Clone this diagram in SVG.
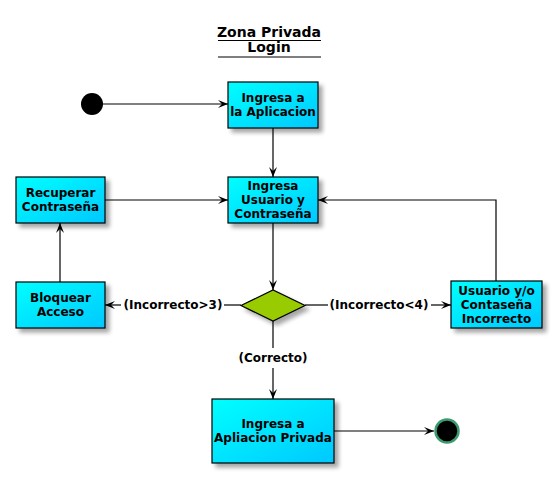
<svg xmlns="http://www.w3.org/2000/svg" width="557" height="479" viewBox="0 0 557 479">
<defs>
<linearGradient id="g" x1="0" y1="0" x2="1" y2="1">
<stop offset="0" stop-color="#00FFFF"/>
<stop offset="1" stop-color="#00C8FF"/>
</linearGradient>
<filter id="sh" x="-20%" y="-20%" width="150%" height="150%">
<feGaussianBlur in="SourceAlpha" stdDeviation="2"/>
<feOffset dx="4" dy="4" result="b"/>
<feComponentTransfer><feFuncA type="linear" slope="0.35"/></feComponentTransfer>
<feMerge><feMergeNode/><feMergeNode in="SourceGraphic"/></feMerge>
</filter>
<marker id="ah" viewBox="0 0 10 10" refX="10" refY="5" markerWidth="10" markerHeight="10" markerUnits="userSpaceOnUse" orient="auto">
<path d="M0,1 L10,5 L0,9 L4,5 Z" fill="#000"/>
</marker>
</defs>
<style>
text{font-family:"DejaVu Sans",sans-serif;font-weight:bold;font-size:12px;text-anchor:middle;fill:#000}
.box{fill:url(#g);stroke:#000;stroke-width:1.2;filter:url(#sh)}
.ln{fill:none;stroke:#000;stroke-width:1.2}
.ar{marker-end:url(#ah)}
.t{font-size:14px}
</style>
<rect width="557" height="479" fill="#fff"/>
<g id="title">
<text class="t" x="269" y="37">Zona Privada</text>
<line x1="218" y1="40.5" x2="321" y2="40.5" stroke="#000" stroke-width="1.2"/>
<text class="t" x="269" y="52">Login</text>
<line x1="218" y1="57" x2="321" y2="57" stroke="#000" stroke-width="1.2"/>
</g>
<g id="connectors">
<line class="ln ar" x1="103" y1="104" x2="228" y2="104"/>
<line class="ln ar" x1="273" y1="128" x2="273" y2="177"/>
<line class="ln ar" x1="105" y1="200" x2="228" y2="200"/>
<polyline class="ln ar" points="496,281 496,200 318,200"/>
<line class="ln ar" x1="273" y1="223" x2="273" y2="290"/>
<line class="ln ar" x1="60" y1="282" x2="60" y2="223"/>
<line class="ln" x1="241" y1="305" x2="224" y2="305"/>
<line class="ln ar" x1="121" y1="305" x2="105" y2="305"/>
<text x="173" y="309">(Incorrecto&gt;3)</text>
<line class="ln" x1="305" y1="305" x2="328" y2="305"/>
<line class="ln ar" x1="431" y1="305" x2="451" y2="305"/>
<text x="379" y="309">(Incorrecto&lt;4)</text>
<line class="ln" x1="273" y1="321" x2="273" y2="348"/>
<text x="273" y="362">(Correcto)</text>
<line class="ln ar" x1="273" y1="368" x2="273" y2="399"/>
<line class="ln ar" x1="334" y1="431" x2="434" y2="431"/>
</g>
<g id="start"><circle cx="92" cy="104" r="11" fill="#000"/></g>
<g id="n1">
<rect class="box" x="228" y="82" width="90" height="46"/>
<text x="273" y="102">Ingresa a</text>
<text x="273" y="116">la Aplicacion</text>
</g>
<g id="n2">
<rect class="box" x="228" y="177" width="90" height="46"/>
<text x="273" y="190">Ingresa</text>
<text x="273" y="204">Usuario y</text>
<text x="273" y="218">Contraseña</text>
</g>
<g id="n3">
<rect class="box" x="16" y="177" width="89" height="46"/>
<text x="60.5" y="197">Recuperar</text>
<text x="60.5" y="211">Contraseña</text>
</g>
<g id="decision">
<polygon points="241,305.5 273,290 305,305.5 273,321" fill="#99CC00" stroke="#000" stroke-width="1.2" filter="url(#sh)"/>
</g>
<g id="n4">
<rect class="box" x="16" y="282" width="89" height="46"/>
<text x="60.5" y="302">Bloquear</text>
<text x="60.5" y="316">Acceso</text>
</g>
<g id="n5">
<rect class="box" x="451" y="281" width="91" height="47"/>
<text x="496.5" y="295">Usuario y/o</text>
<text x="496.5" y="309">Contaseña</text>
<text x="496.5" y="323">Incorrecto</text>
</g>
<g id="n6">
<rect class="box" x="212" y="399" width="122" height="64"/>
<text x="273" y="428">Ingresa a</text>
<text x="273" y="442">Apliacion Privada</text>
</g>
<g id="end"><circle cx="447" cy="431" r="11.5" fill="#000" stroke="#3C9B6E" stroke-width="2.5"/></g>
</svg>
